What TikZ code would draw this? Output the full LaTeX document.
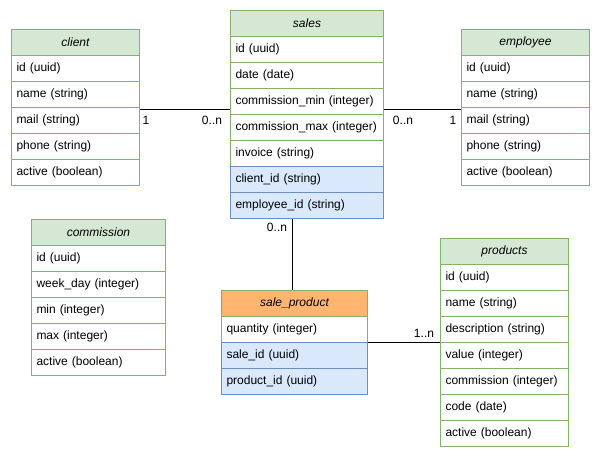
\documentclass[tikz,border=0pt]{standalone}
\usepackage{fontspec}
\setmainfont{Liberation Sans}
\definecolor{gfill}{HTML}{D5E8D4}
\definecolor{gdraw}{HTML}{82B366}
\definecolor{bfill}{HTML}{DAE8FC}
\definecolor{bdraw}{HTML}{6C8EBF}
\definecolor{ofill}{HTML}{FFB570}
\begin{document}
\begin{tikzpicture}[x=1pt,y=-1pt,
  cell/.style={rectangle, draw=gdraw, line width=1pt, fill=white, anchor=north west,
    minimum height=26pt, inner xsep=5pt, inner ysep=0pt, font=\fontsize{12pt}{14pt}\selectfont},
  hdr/.style={cell, fill=gfill, font=\fontsize{12pt}{14pt}\selectfont\itshape},
  fk/.style={fill=bfill, draw=bdraw},
  card/.style={inner sep=0pt, font=\fontsize{12pt}{14pt}\selectfont},
  rel/.style={draw=black, line width=1pt}]
\useasboundingbox (0,0) rectangle (600,460);

% client
\node[hdr, minimum width=128pt] (client-0) at (11,29) {client};
\foreach \t [count=\i] in {{id (uuid)},{name (string)},{mail (string)},{phone (string)},{active (boolean)}}
  \node[cell, minimum width=128pt, text width=118pt, align=left] (client-\i) at (11,29+26*\i) {\t};

% sales
\node[hdr, minimum width=153pt] (sales-0) at (230,10) {sales};
\foreach \t [count=\i] in {{id (uuid)},{date (date)},{commission\_min (integer)},{commission\_max (integer)},{invoice (string)}}
  \node[cell, minimum width=153pt, text width=143pt, align=left] (sales-\i) at (230,10+26*\i) {\t};
\node[cell, fk, minimum width=153pt, text width=143pt, align=left] (sales-6) at (230,166) {client\_id (string)};
\node[cell, fk, minimum width=153pt, text width=143pt, align=left] (sales-7) at (230,192) {employee\_id (string)};

% employee
\node[hdr, minimum width=128pt] (employee-0) at (461,29) {employee};
\foreach \t [count=\i] in {{id (uuid)},{name (string)},{mail (string)},{phone (string)},{active (boolean)}}
  \node[cell, minimum width=128pt, text width=118pt, align=left] (employee-\i) at (461,29+26*\i) {\t};

% commission
\node[hdr, minimum width=134pt] (commission-0) at (31,219) {commission};
\foreach \t [count=\i] in {{id (uuid)},{week\_day (integer)},{min (integer)},{max (integer)},{active (boolean)}}
  \node[cell, minimum width=134pt, text width=124pt, align=left] (commission-\i) at (31,219+26*\i) {\t};

% sale_product
\node[hdr, fill=ofill, minimum width=146pt] (sp-0) at (221,290) {sale\_product};
\node[cell, minimum width=146pt, text width=136pt, align=left] (sp-1) at (221,316) {quantity (integer)};
\node[cell, fk, minimum width=146pt, text width=136pt, align=left] (sp-2) at (221,342) {sale\_id (uuid)};
\node[cell, fk, minimum width=146pt, text width=136pt, align=left] (sp-3) at (221,368) {product\_id (uuid)};

% products
\node[hdr, minimum width=128pt] (products-0) at (440,238) {products};
\foreach \t [count=\i] in {{id (uuid)},{name (string)},{description (string)},{value (integer)},{commission (integer)},{code (date)},{active (boolean)}}
  \node[cell, minimum width=128pt, text width=118pt, align=left] (products-\i) at (440,238+26*\i) {\t};

% relations
\draw[rel] (client-3.east |- 0,109) -- (sales-3.west |- 0,109);
\draw[rel] (sales-3.east |- 0,109) -- (employee-3.west |- 0,109);
\draw[rel] (sales-7.south -| 292,0) -- (sp-0.north -| 292,0);
\draw[rel] (sp-2.north east) -- (products-4.north west);

% cardinalities
\node[card] (c1) at (146,120) {1};
\node[card] (c2) at (212,120) {0..n};
\node[card] (c3) at (403,120) {0..n};
\node[card] (c4) at (453,120) {1};
\node[card] (c5) at (277,227) {0..n};
\node[card] (c6) at (424,333) {1..n};
\end{tikzpicture}
\end{document}
